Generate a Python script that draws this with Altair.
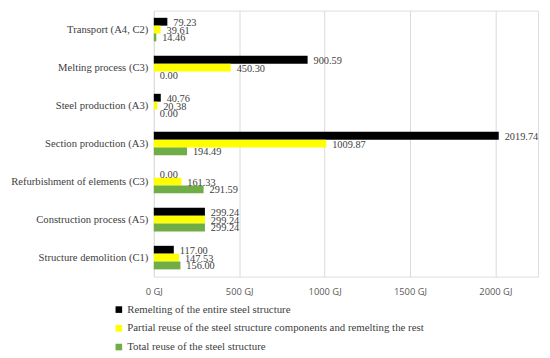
import altair as alt
import pandas as pd

categories = ["Transport (A4, C2)", "Melting process (C3)", "Steel production (A3)",
              "Section production (A3)", "Refurbishment of elements (C3)",
              "Construction process (A5)", "Structure demolition (C1)"]
series = ["Remelting of the entire steel structure",
          "Partial reuse of the steel structure components and remelting the rest",
          "Total reuse of the steel structure"]
remelting = [79.23, 900.59, 40.76, 2019.74, 0.00, 299.24, 117.00]
partial = [39.61, 450.30, 20.38, 1009.87, 161.33, 299.24, 147.53]
total = [14.46, 0.00, 0.00, 194.49, 291.59, 299.24, 156.00]
colors = ["#000000", "#FFFF00", "#70AD47"]
x_ticks = [0, 500, 1000, 1500, 2000]

rows = []
for s, vals in zip(series, [remelting, partial, total]):
    for c, v in zip(categories, vals):
        rows.append({"category": c, "series": s, "value": v, "label": f"{v:.2f}"})
df = pd.DataFrame(rows)

serif = "Liberation Serif"

y_enc = alt.Y("category:N", sort=categories, title=None,
              scale=alt.Scale(paddingInner=0.38, paddingOuter=0.19),
              axis=alt.Axis(labelFont=serif, labelFontSize=10.8, labelColor="#404040",
                            ticks=False, domain=False, labelPadding=6, grid=False,
                            labelLimit=0))
yoff = alt.YOffset("series:N", sort=series)
x_enc = alt.X("value:Q", title=None,
              scale=alt.Scale(domain=[0, 2250], nice=False),
              axis=alt.Axis(values=x_ticks, labelExpr="datum.value + ' GJ'",
                            labelFont="Open Sans", labelFontSize=9.5, labelColor="#595959",
                            ticks=False, domain=False, gridColor="#d9d9d9",
                            labelPadding=10, labelFlush=False))

bars = alt.Chart(df).mark_bar(stroke=None).encode(
    y=y_enc, yOffset=yoff, x=x_enc,
    color=alt.Color("series:N", sort=series,
                    scale=alt.Scale(domain=series, range=colors),
                    legend=alt.Legend(title=None, orient="none", legendX=-41, legendY=298,
                                      direction="vertical", symbolType="square",
                                      symbolSize=45, symbolStrokeWidth=0,
                                      labelFont=serif, labelFontSize=11,
                                      labelColor="#404040", rowPadding=7,
                                      labelLimit=0, symbolOffset=0, labelOffset=3))
)

texts = alt.Chart(df).mark_text(align="left", baseline="middle", dx=6, dy=1,
                                font=serif, fontSize=10.5, color="#404040").encode(
    y=alt.Y("category:N", sort=categories), yOffset=yoff, x="value:Q", text="label:N"
)

chart = alt.layer(bars, texts).properties(
    width=390, height=270,
    autosize=alt.AutoSizeParams(type="none"),
    padding={"left": 148, "top": 0, "right": 4, "bottom": 80}
).configure_view(stroke=None).configure(background="white")

chart.save("out.html", embed_options={"renderer": "svg", "actions": False})
